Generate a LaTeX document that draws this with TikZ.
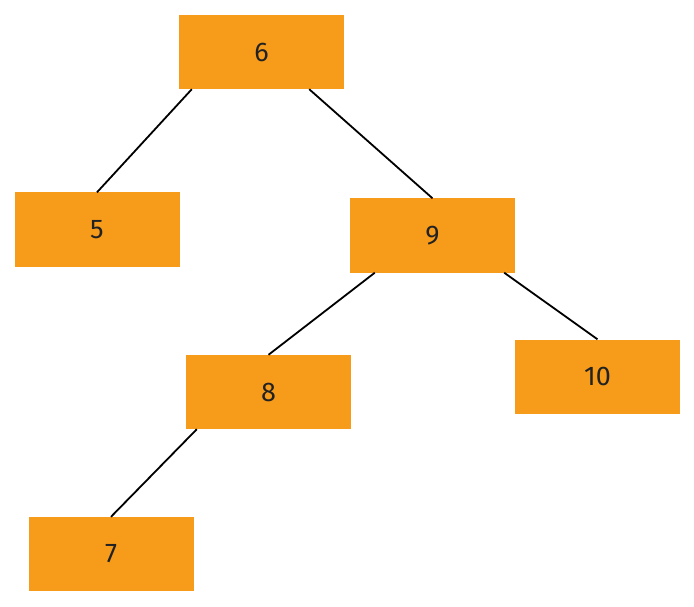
\documentclass[tikz,border=0pt]{standalone}
\usepackage{fontspec}
\setmainfont{Fira Sans}
\usetikzlibrary{calc}
\definecolor{boxorange}{HTML}{F79B1B}
\definecolor{txt}{HTML}{222222}
\begin{document}
\begin{tikzpicture}[x=1pt,y=-1pt,
  tbox/.style={fill=boxorange,draw=none,minimum width=165pt,minimum height=74pt,inner sep=0pt,text=txt,font=\fontsize{27}{30}\selectfont},
  edge/.style={draw=black,line width=1.8pt}]
\useasboundingbox (0,0) rectangle (694,607);
\node[tbox] (n6) at (261.5,52) {6};
\node[tbox] (n5) at (97,229.5) {5};
\node[tbox] (n9) at (432.5,235.5) {9};
\node[tbox] (n8) at (268.5,392) {8};
\node[tbox] (n10) at (597.5,376.5) {10};
\node[tbox] (n7) at (111,554) {7};
\draw[edge] ($(n6.south west)+(13,0)$) -- (n5.north);
\draw[edge] ($(n6.south east)+(-35,0)$) -- (n9.north);
\draw[edge] ($(n9.south west)+(25,0)$) -- (n8.north);
\draw[edge] ($(n9.south east)+(-11,0)$) -- (n10.north);
\draw[edge] ($(n8.south west)+(11,0)$) -- (n7.north);
\end{tikzpicture}
\end{document}
